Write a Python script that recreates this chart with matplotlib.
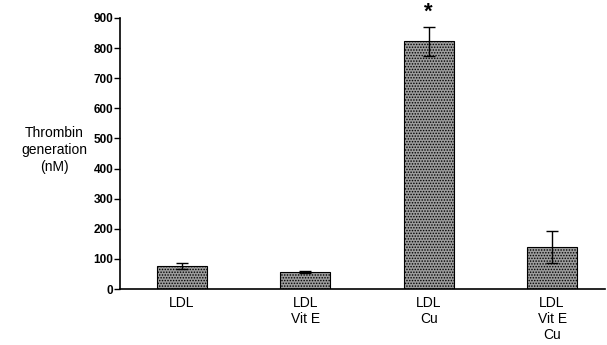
import matplotlib
matplotlib.use("Agg")
import matplotlib.pyplot as plt
import numpy as np

plt.rcParams['font.family'] = ['Liberation Sans', 'DejaVu Sans']
plt.rcParams['hatch.linewidth'] = 0.7
plt.rcParams['hatch.color'] = '#505050'

# data
groups = ["LDL", "LDL\nVit E", "LDL\nCu", "LDL\nVit E\nCu"]
thrombin = [76, 56, 822, 140]
err = [10, 3, 47, 52]
yticks = [0, 100, 200, 300, 400, 500, 600, 700, 800, 900]

fig = plt.figure(figsize=(6.07, 3.45), dpi=100)
ax = fig.add_axes([0.198, 0.162, 0.799, 0.786])

x = np.arange(len(groups))
ax.bar(x, thrombin, width=0.405, color='#9c9c9c', edgecolor='black',
       linewidth=0.8, hatch='......', zorder=2)
ax.errorbar(x, thrombin, yerr=err, fmt='none', ecolor='black',
            elinewidth=1, capsize=4, capthick=1, zorder=3)

# significance mark over LDL Cu
ax.text(x[2], thrombin[2] + err[2] + 15, '*', ha='center', va='bottom',
        fontsize=16, fontweight='bold', clip_on=False)

ax.set_xlim(-0.5, 3.43)
ax.set_ylim(0, 900)
ax.set_yticks(yticks)
ax.set_yticklabels([str(v) for v in yticks], fontweight='bold', fontsize=8.5)
ax.set_xticks(x)
ax.set_xticklabels(groups, fontsize=10, linespacing=1.2)
ax.tick_params(axis='x', length=0, pad=5)
ax.tick_params(axis='y', direction='out', length=4, width=1, pad=1)

for s in ['top', 'right']:
    ax.spines[s].set_visible(False)
for s in ['left', 'bottom']:
    ax.spines[s].set_linewidth(1.2)

fig.text(0.09, 0.565, "Thrombin\ngeneration\n(nM)",
         ha='center', va='center', fontsize=10, linespacing=1.25)

fig.savefig("out.png", dpi=100)
